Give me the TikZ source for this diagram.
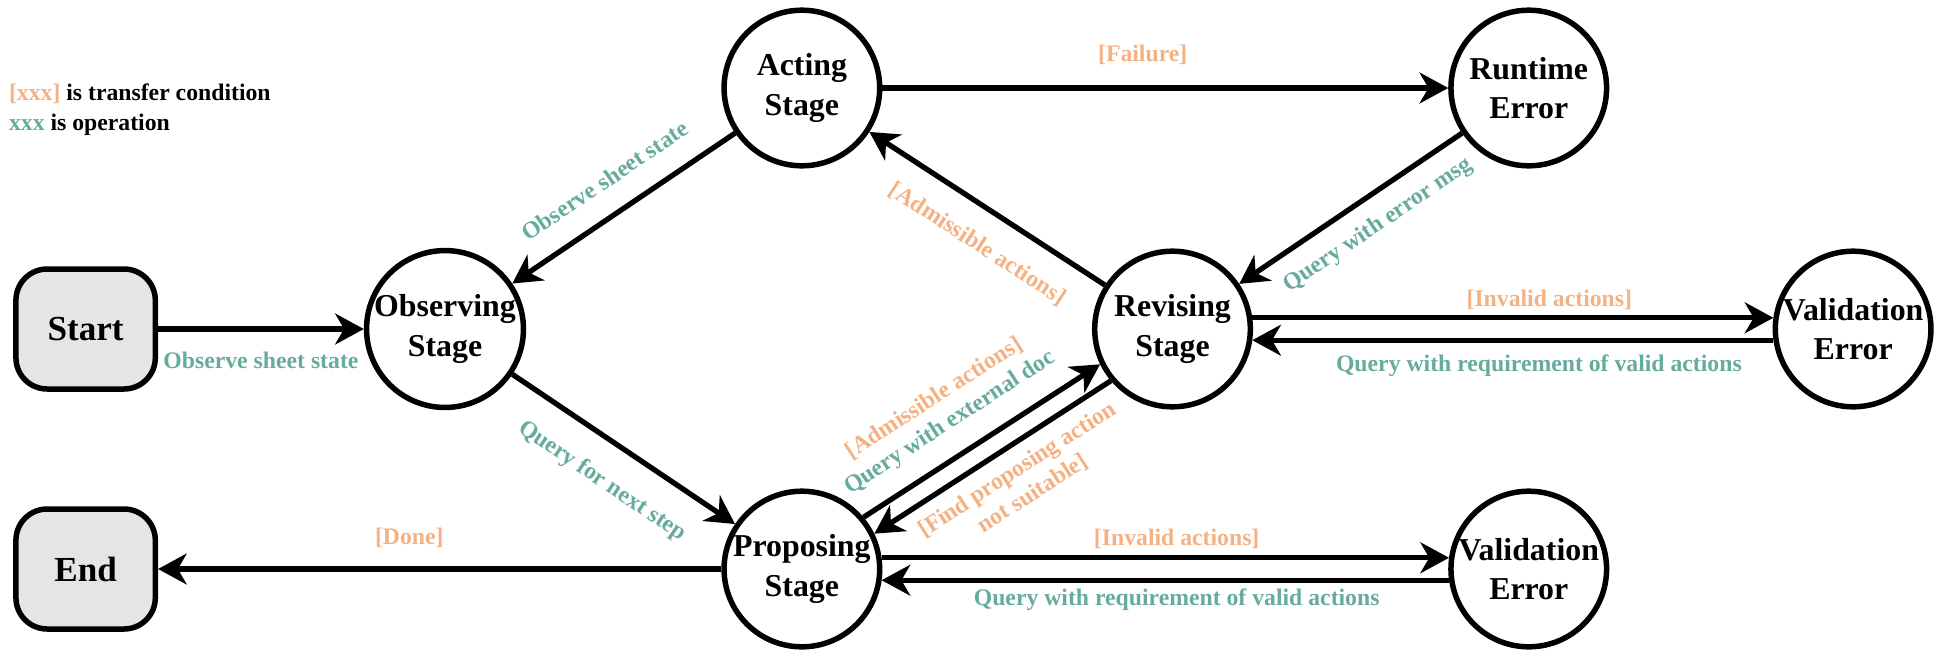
\documentclass[tikz,border=0pt]{standalone}
\usepackage{fontspec}
\setmainfont{Liberation Serif}
\usetikzlibrary{arrows.meta}
\definecolor{condorange}{HTML}{F4B183}
\definecolor{opteal}{HTML}{67AB9F}
\tikzset{
	stage/.style={circle, draw, line width=2.5pt, minimum size=2.49cm, inner sep=0pt, align=center, font=\fontsize{14.5}{18}\selectfont\bfseries},
	terminal/.style={rectangle, draw, rounded corners=0.5cm, line width=2.5pt, fill=black!10, minimum width=2.23cm, minimum height=1.92cm, font=\fontsize{16}{19}\selectfont\bfseries},
	flow/.style={line width=2.4pt, -{Stealth[length=13pt, width=14pt, inset=4pt]}},
	cond/.style={text=condorange, inner sep=1pt, align=center, font=\fontsize{10.8}{13}\selectfont\bfseries},
	op/.style={text=opteal, inner sep=1pt, align=center, font=\fontsize{10.8}{13}\selectfont\bfseries}
}

\begin{document}
\begin{tikzpicture}
		%%%%% START %%%%%
		\useasboundingbox (0, 0) rectangle (30.992, 10.544);
		
		\node[anchor=west, inner sep=0pt, align=left, font=\fontsize{10.8}{13.6}\selectfont\bfseries] (legend) at (0.138, 8.79) {\textcolor{condorange}{[xxx]} is transfer condition\\\textcolor{opteal}{xxx} is operation};
		
		\node[terminal] (start) at (1.37, 5.28) {Start};
		\node[terminal] (end) at (1.37, 1.44) {End};
		
		\node[stage] (observing) at (7.12, 5.28) {Observing\\Stage};
		\node[stage] (acting) at (12.83, 9.136) {Acting\\Stage};
		\node[stage] (proposing) at (12.83, 1.44) {Proposing\\Stage};
		\node[stage] (revising) at (18.76, 5.28) {Revising\\Stage};
		\node[stage] (runtime) at (24.46, 9.136) {Runtime\\Error};
		\node[stage] (validR) at (29.65, 5.28) {Validation\\Error};
		\node[stage] (validP) at (24.46, 1.44) {Validation\\Error};
		
		\draw[flow] (start) -- node[op, below=8.5pt] {Observe sheet state} (observing);
		\draw[flow] (acting) -- node[op, sloped, above=9.3pt] {Observe sheet state} (observing);
		\draw[flow] (observing) -- node[op, sloped, below=10.5pt] {Query for next step} (proposing);
		
		\draw[flow] (acting) -- node[cond, pos=0.46, above=8.6pt] {[Failure]} (runtime);
		\draw[flow] (revising) -- node[cond, sloped, pos=0.46, below=9.3pt] {[Admissible actions]} (acting);
		\draw[flow] (runtime) -- node[op, sloped, pos=0.45, below=6.3pt] {Query with error msg} (revising);
		
		\draw[flow] (revising.8) -- node[cond, pos=0.57, above=1.5pt] {[Invalid actions]} (validR.172);
		\draw[flow] (validR.188) -- node[op, pos=0.45, below=4.3pt] {Query with requirement of valid actions} (revising.-8);
		
		\draw[flow] (proposing.40) -- node[sloped, pos=0.44, above=7.6pt, inner sep=1pt, align=center, font=\fontsize{10.8}{13}\selectfont\bfseries] {\textcolor{condorange}{[Admissible actions]}\\\textcolor{opteal}{Query with external doc}} (revising.206);
		\draw[flow] (revising.220) -- node[cond, sloped, pos=0.45, below=4.3pt] {[Find proposing action\\not suitable]} (proposing.26);
		
		\draw[flow] (proposing.8) -- node[cond, pos=0.52, above=1.8pt] {[Invalid actions]} (validP.172);
		\draw[flow] (validP.188) -- node[op, pos=0.48, below=1.8pt] {Query with requirement of valid actions} (proposing.-8);
		
		\draw[flow] (proposing) -- node[cond, pos=0.554, above=7.7pt] {[Done]} (end);
		%%%%% END %%%%%
\end{tikzpicture}
\end{document}
